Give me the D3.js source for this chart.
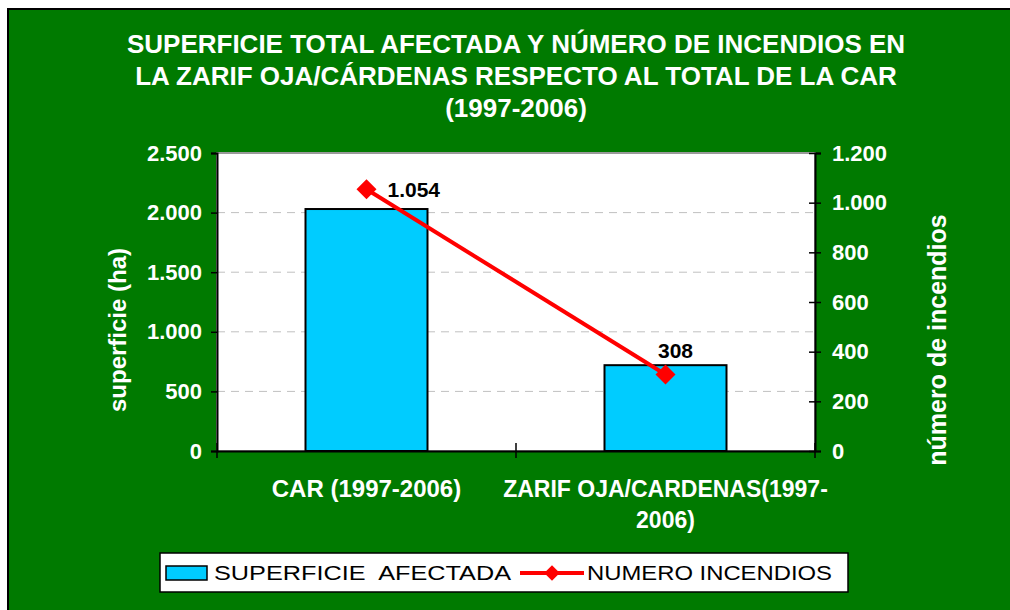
<!DOCTYPE html>
<html>
<head>
<meta charset="utf-8">
<script src="https://cdn.jsdelivr.net/npm/d3@7"></script>
<style>
  body { margin: 0; background: #fff; }
  text { font-family: "Liberation Sans", Arial, sans-serif; }
</style>
</head>
<body>
<svg width="1010" height="610"></svg>
<script>
const categories = [["CAR (1997-2006)"], ["ZARIF OJA/CARDENAS(1997-", "2006)"]];
const superficie = [2030, 720];
const incendios = [1054, 308];
const incendiosLabels = ["1.054", "308"];
const leftTicks = [0, 500, 1000, 1500, 2000, 2500];
const rightTicks = [0, 200, 400, 600, 800, 1000, 1200];
const titleLines = [
  "SUPERFICIE TOTAL AFECTADA Y NÚMERO DE INCENDIOS EN",
  "LA ZARIF OJA/CÁRDENAS RESPECTO AL TOTAL DE LA CAR",
  "(1997-2006)"
];

const green = "#007a00";
const fmt = d => d3.format(",")(d).replace(/,/g, ".");

const svg = d3.select("svg");

// background
svg.append("rect").attr("x", 8).attr("y", 9).attr("width", 1010).attr("height", 610)
  .attr("fill", green).attr("stroke", "#000").attr("stroke-width", 2);

const m = { left: 217, right: 815, top: 153, bottom: 451 };

const x = d3.scaleBand().domain(d3.range(categories.length)).range([m.left, m.right]);
const yL = d3.scaleLinear().domain([0, 2500]).range([m.bottom, m.top]);
const yR = d3.scaleLinear().domain([0, 1200]).range([m.bottom, m.top]);

// plot area
svg.append("rect").attr("x", m.left).attr("y", m.top)
  .attr("width", m.right - m.left).attr("height", m.bottom - m.top)
  .attr("fill", "#fff").attr("stroke", "#999").attr("stroke-width", 2);

// grid
svg.append("g").selectAll("line").data(leftTicks.filter(d => d > 0 && d < 2500)).enter()
  .append("line")
  .attr("x1", m.left).attr("x2", m.right)
  .attr("y1", d => yL(d)).attr("y2", d => yL(d))
  .attr("stroke", "#c0c0c0").attr("stroke-dasharray", "8,6");

// bars
const bw = 122;
svg.append("g").selectAll("rect").data(superficie).enter()
  .append("rect")
  .attr("x", (d, i) => x(i) + x.bandwidth() / 2 - bw / 2)
  .attr("y", d => yL(d))
  .attr("width", bw)
  .attr("height", d => yL(0) - yL(d))
  .attr("fill", "#00ccff").attr("stroke", "#000").attr("stroke-width", 2);

// axes
const leftAxis = d3.axisLeft(yL).tickValues(leftTicks).tickFormat(fmt).tickSize(6);
const gl = svg.append("g").attr("transform", `translate(${m.left},0)`).call(leftAxis);
const rightAxis = d3.axisRight(yR).tickValues(rightTicks).tickFormat(fmt).tickSize(6);
const gr = svg.append("g").attr("transform", `translate(${m.right},0)`).call(rightAxis);
gr.selectAll(".tick line").attr("x1", -6);
const bottomAxis = d3.axisBottom(x).tickValues([]).tickSizeOuter(0);
const gb = svg.append("g").attr("transform", `translate(0,${m.bottom})`).call(bottomAxis);

[gl, gr, gb].forEach(g => {
  g.select(".domain").attr("stroke", "#000").attr("stroke-width", 2);
  g.selectAll(".tick line").attr("stroke", "#000").attr("stroke-width", 1.5);
  g.selectAll(".tick text").attr("fill", "#fff").attr("font-size", 22)
    .attr("font-weight", "bold");
});
gl.selectAll(".tick text").attr("x", -15);
gr.selectAll(".tick text").attr("x", 17);

// category separators
svg.append("g").selectAll("line").data(d3.range(categories.length + 1)).enter()
  .append("line")
  .attr("x1", i => m.left + i * x.bandwidth()).attr("x2", i => m.left + i * x.bandwidth())
  .attr("y1", m.bottom - 8).attr("y2", m.bottom + 7)
  .attr("stroke", "#000").attr("stroke-width", 1.5);

// category labels
const cl = svg.append("g").selectAll("text").data(categories).enter()
  .append("text")
  .attr("text-anchor", "middle").attr("fill", "#fff")
  .attr("font-size", (d, i) => i === 0 ? 24 : 23).attr("font-weight", "bold");
cl.selectAll("tspan").data((d, i) => d.map(t => ({ t, i }))).enter()
  .append("tspan")
  .attr("x", d => x(d.i) + x.bandwidth() / 2)
  .attr("y", (d, j) => 497 + j * 31)
  .text(d => d.t);

// line series
const cx = i => x(i) + x.bandwidth() / 2;
svg.append("path").datum(incendios)
  .attr("d", d3.line().x((d, i) => cx(i)).y(d => yR(d)))
  .attr("fill", "none").attr("stroke", "#ff0000").attr("stroke-width", 4);
svg.append("g").selectAll("path").data(incendios).enter()
  .append("path")
  .attr("d", d3.symbol(d3.symbolSquare, 200))
  .attr("transform", (d, i) => `translate(${cx(i)},${yR(d)}) rotate(45)`)
  .attr("fill", "#ff0000");

// value labels
svg.append("text").attr("x", cx(0) + 21).attr("y", yR(incendios[0]) + 8)
  .attr("font-size", 21).attr("font-weight", "bold").attr("fill", "#000")
  .text(incendiosLabels[0]);
svg.append("text").attr("x", cx(1) + 10).attr("y", yR(incendios[1]) - 17)
  .attr("text-anchor", "middle")
  .attr("font-size", 21).attr("font-weight", "bold").attr("fill", "#000")
  .text(incendiosLabels[1]);

// title
svg.append("g").selectAll("text").data(titleLines).enter()
  .append("text")
  .attr("x", 516).attr("y", (d, i) => 53 + i * 32)
  .attr("text-anchor", "middle").attr("fill", "#fff")
  .attr("font-size", 26).attr("font-weight", "bold")
  .text(d => d);

// axis titles
svg.append("text").attr("transform", "translate(126,330) rotate(-90)")
  .attr("text-anchor", "middle").attr("fill", "#fff")
  .attr("font-size", 24).attr("font-weight", "bold").text("superficie (ha)");
svg.append("text").attr("transform", "translate(946,340) rotate(-90)")
  .attr("text-anchor", "middle").attr("fill", "#fff")
  .attr("font-size", 25).attr("font-weight", "bold").text("número de incendios");

// legend
const lg = svg.append("g");
lg.append("rect").attr("x", 160).attr("y", 553).attr("width", 688).attr("height", 39)
  .attr("fill", "#fff").attr("stroke", "#000").attr("stroke-width", 1.5);
lg.append("rect").attr("x", 166).attr("y", 566).attr("width", 41).attr("height", 14)
  .attr("fill", "#00ccff").attr("stroke", "#000").attr("stroke-width", 1.5);
lg.append("text").attr("x", 214).attr("y", 580).attr("font-size", 21)
  .attr("textLength", 297).attr("lengthAdjust", "spacingAndGlyphs")
  .attr("fill", "#000").attr("xml:space", "preserve").text("SUPERFICIE  AFECTADA");
lg.append("line").attr("x1", 520).attr("x2", 584).attr("y1", 573).attr("y2", 573)
  .attr("stroke", "#ff0000").attr("stroke-width", 4);
lg.append("path").attr("d", d3.symbol(d3.symbolSquare, 120))
  .attr("transform", "translate(552,573) rotate(45)").attr("fill", "#ff0000");
lg.append("text").attr("x", 587).attr("y", 580).attr("font-size", 21)
  .attr("textLength", 245).attr("lengthAdjust", "spacingAndGlyphs")
  .attr("fill", "#000").text("NUMERO INCENDIOS");
</script>
</body>
</html>
